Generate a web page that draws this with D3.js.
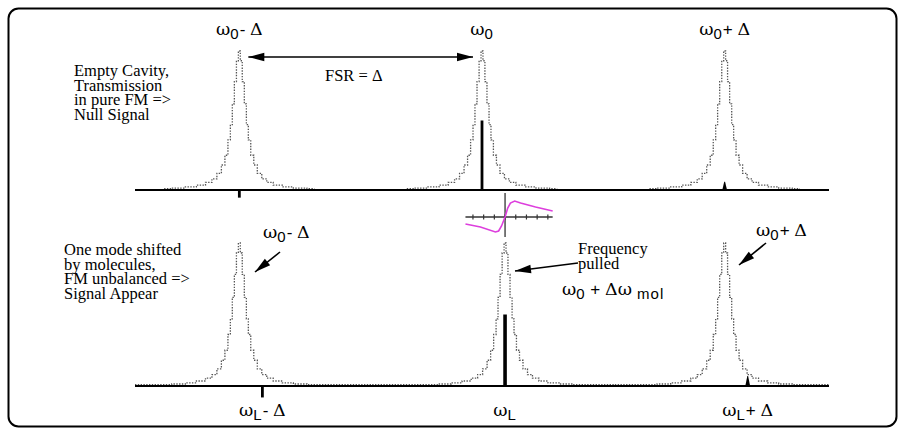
<!DOCTYPE html>
<html>
<head>
<meta charset="utf-8">
<title>Cavity modes and FM sidebands</title>
<script src="https://cdn.jsdelivr.net/npm/d3@7"></script>
<style>
  body { margin: 0; background: #fff; }
  .serif { font-family: "Liberation Serif", "Times New Roman", Times, serif; }
  .greek { font-family: "DejaVu Serif", "Liberation Serif", serif; }
  .sans { font-family: "Liberation Sans", Arial, Helvetica, sans-serif; }
</style>
</head>
<body>
<div id="chart"></div>
<script>
// frequencies in units of the free spectral range (FSR = Delta), transmission normalised to 1
var modesTop = [-1, 0, 1]
var modesBot = [-1, 0.095, 1]
var laserTop = [-1, 0, 1]
var laserBot = [-0.905, 0.095, 1.095]
var signalTop = [-0.055, 0.5, 0.06]
var signalBot = [-0.08, 0.5, 0.07]

// one cavity mode (offset from mode centre, relative height)
var profOffset = [0, 0.008, 0.016, 0.025, 0.033, 0.041, 0.053, 0.066, 0.082, 0.103, 0.123, 0.156, 0.198, 0.247, 0.31]
var profHeight = [1, 0.93, 0.78, 0.62, 0.47, 0.36, 0.25, 0.18, 0.12, 0.08, 0.055, 0.035, 0.022, 0.014, 0.009]

// error signal of the small inset (tick units, arbitrary amplitude)
var insetX = [-3.7, -2.3, -0.9, -0.6, -0.33, 0, 0.25, 0.5, 0.9, 1.45, 2.85, 4.45]
var insetY = [-7, -10, -15, -14, -9, 0, 9, 14, 16, 14, 10, 6]
var insetTicks = [-3, -2, -1, 0, 1, 2, 3, 4]

// labels: [text, kind]  g = greek/serif, s = subscript, n = sign
var topLabels = [
  [["ω", "g"], ["0", "s"], ["- ", "n"], ["Δ", "g"]],
  [["ω", "g"], ["0", "s"]],
  [["ω", "g"], ["0", "s"], ["+ ", "n"], ["Δ", "g"]]
]
var botLabels = [
  [["ω", "g"], ["L", "s"], ["- ", "n"], ["Δ", "g"]],
  [["ω", "g"], ["L", "s"]],
  [["ω", "g"], ["L", "s"], ["+ ", "n"], ["Δ", "g"]]
]
var pulledLabel = [["ω", "g"], ["0", "s"], [" + ", "n"], ["Δω", "g"], [" mol", "s"]]
var textTop = ["Empty Cavity,", "Transmission", "in pure FM =>", "Null Signal"]
var textBot = ["One mode shifted", "by molecules,", "FM unbalanced =>", "Signal Appear"]
var textPulled = ["Frequency", "pulled"]

var width = 906, height = 435

var svg = d3.select("#chart").append("svg")
    .attr("width", width)
    .attr("height", height)

svg.append("rect")
    .attr("x", 8.5).attr("y", 8.5)
    .attr("width", 888).attr("height", 418)
    .attr("rx", 10)
    .style("fill", "none")
    .style("stroke", "#000")
    .style("stroke-width", 2)

var x = d3.scaleLinear().domain([-1.43, 1.43]).range([135, 829])
var yTop = d3.scaleLinear().domain([0, 1]).range([190, 51])
var yBot = d3.scaleLinear().domain([0, 1]).range([386, 243])

function modePoints(c, lo, hi) {
  var pts = []
  for (var i = profOffset.length - 1; i > 0; i--) pts.push([c - profOffset[i], profHeight[i]])
  for (var j = 0; j < profOffset.length; j++) pts.push([c + profOffset[j], profHeight[j]])
  var floor = profHeight[profHeight.length - 1]
  if (lo !== undefined && lo < pts[0][0]) pts.unshift([lo, floor])
  if (hi !== undefined && hi > pts[pts.length - 1][0]) pts.push([hi, floor])
  return pts
}

function richLabel(g, px, py, parts, anchor) {
  var t = g.append("text")
      .attr("x", px).attr("y", py)
      .attr("text-anchor", anchor || "middle")
      .attr("fill", "#000")
  var shift = 0
  parts.forEach(function(p) {
    var sp = t.append("tspan")
    var want = p[1] == "s" ? 4 : 0
    if (want != shift) { sp.attr("dy", want - shift); shift = want }
    if (p[1] == "g") sp.attr("class", "greek").attr("font-size", 17.5)
    else if (p[1] == "s") sp.attr("class", "sans").attr("font-size", 15).attr("letter-spacing", 1)
    else sp.attr("class", "sans").attr("font-size", 17)
    sp.attr("xml:space", "preserve").text(p[0])
  })
  return t
}

function textBlock(g, px, py, lines) {
  var t = g.append("text")
      .attr("class", "serif")
      .attr("font-size", 16.5)
      .attr("fill", "#000")
  lines.forEach(function(l, i) {
    t.append("tspan").attr("x", px).attr("y", py + i * 14.5).text(l)
  })
}

function arrowHead(g, x1, y1, x2, y2, len, hw) {
  var a = Math.atan2(y2 - y1, x2 - x1)
  var bx = x2 - len * Math.cos(a), by = y2 - len * Math.sin(a)
  var nx = -Math.sin(a) * hw, ny = Math.cos(a) * hw
  g.append("path")
      .attr("d", "M" + x2 + "," + y2 + "L" + (bx + nx) + "," + (by + ny) + "L" + (bx - nx) + "," + (by - ny) + "Z")
      .style("fill", "#000")
}

function arrow(g, x1, y1, x2, y2, both) {
  g.append("line")
      .attr("x1", x1).attr("y1", y1).attr("x2", x2).attr("y2", y2)
      .style("stroke", "#000")
      .style("stroke-width", 1.6)
  arrowHead(g, x1, y1, x2, y2, 16, 4.2)
  if (both) arrowHead(g, x2, y2, x1, y1, 16, 4.2)
}

var line = d3.line().curve(d3.curveStep)

function drawPanel(modes, laser, signal, y, fill) {
  var g = svg.append("g")
  modes.forEach(function(c, i) {
    var lo, hi
    if (fill) {
      lo = i == 0 ? x.domain()[0] : (modes[i - 1] + c) / 2
      hi = i == modes.length - 1 ? x.domain()[1] : (modes[i + 1] + c) / 2
    }
    g.append("path")
        .datum(modePoints(c, lo, hi))
        .attr("d", line.x(function(d) { return x(d[0]) }).y(function(d) { return y(d[1]) }))
        .style("fill", "none")
        .style("stroke", "#555")
        .style("stroke-width", 1.3)
        .style("stroke-dasharray", "1.4,1.4")
  })
  g.append("line")
      .attr("x1", x.range()[0]).attr("x2", x.range()[1])
      .attr("y1", y(0)).attr("y2", y(0))
      .style("stroke", "#000")
      .style("stroke-width", 2)
  laser.forEach(function(f, i) {
    var v = signal[i], px = x(f), y0 = y(0), y1 = y(v)
    var small = Math.abs(v) < 0.1 && v > 0
    var bw = small ? 2.4 : (fill && v > 0.2 ? 1.8 : 1.4)
    var tw = small ? 0.4 : bw
    g.append("path")
        .attr("d", "M" + (px - bw) + "," + y0 + "L" + (px - tw) + "," + y1 + "L" + (px + tw) + "," + y1 + "L" + (px + bw) + "," + y0 + "Z")
        .style("fill", "#000")
  })
  return g
}

var gTop = drawPanel(modesTop, laserTop, signalTop, yTop, false)
var gBot = drawPanel(modesBot, laserBot, signalBot, yBot, true)

// top panel annotations
modesTop.forEach(function(m, i) { richLabel(svg, x(m), 35, topLabels[i]) })
arrow(svg, x(modesTop[0]) + 9, 57, x(modesTop[1]) - 9, 57, true)
svg.append("text")
    .attr("class", "serif")
    .attr("font-size", 16.5)
    .attr("x", 325).attr("y", 81)
    .text("FSR = Δ")
textBlock(svg, 74, 76, textTop)

// bottom panel annotations
laserBot.forEach(function(f, i) { richLabel(svg, x(f), 416, botLabels[i]) })
textBlock(svg, 64, 255, textBot)
richLabel(svg, 263, 238, topLabels[0], "start")
arrow(svg, 280, 252, 255, 272)
richLabel(svg, 756, 236, topLabels[2], "start")
arrow(svg, 766, 243, 739, 265)
textBlock(svg, 578, 254, textPulled)
arrow(svg, 578, 263, 515, 271)
richLabel(svg, 562, 295, pulledLabel, "start")

// inset: FM error signal around omega_L
var ix = d3.scaleLinear().domain([0, 1]).range([x(laserBot[1]), x(laserBot[1]) + 10.7])
var iy = d3.scaleLinear().domain([0, 1]).range([217, 216])
var gi = svg.append("g")
gi.append("line")
    .attr("x1", ix(-3.7)).attr("x2", ix(4.45))
    .attr("y1", iy(0)).attr("y2", iy(0))
    .style("stroke", "#333").style("stroke-width", 1.4)
gi.selectAll(".tk").data(insetTicks).enter().append("line")
    .attr("x1", function(d) { return ix(d) }).attr("x2", function(d) { return ix(d) })
    .attr("y1", iy(2.5)).attr("y2", iy(-2.5))
    .style("stroke", "#333").style("stroke-width", 1.2)
gi.append("line")
    .attr("x1", ix(0)).attr("x2", ix(0))
    .attr("y1", iy(24)).attr("y2", iy(-20))
    .style("stroke", "#222").style("stroke-width", 1.2)
gi.append("path")
    .datum(d3.zip(insetX, insetY))
    .attr("d", d3.line().x(function(d) { return ix(d[0]) }).y(function(d) { return iy(d[1]) }))
    .style("fill", "none")
    .style("stroke", "#dd3fdd")
    .style("stroke-width", 1.6)
</script>
</body>
</html>
